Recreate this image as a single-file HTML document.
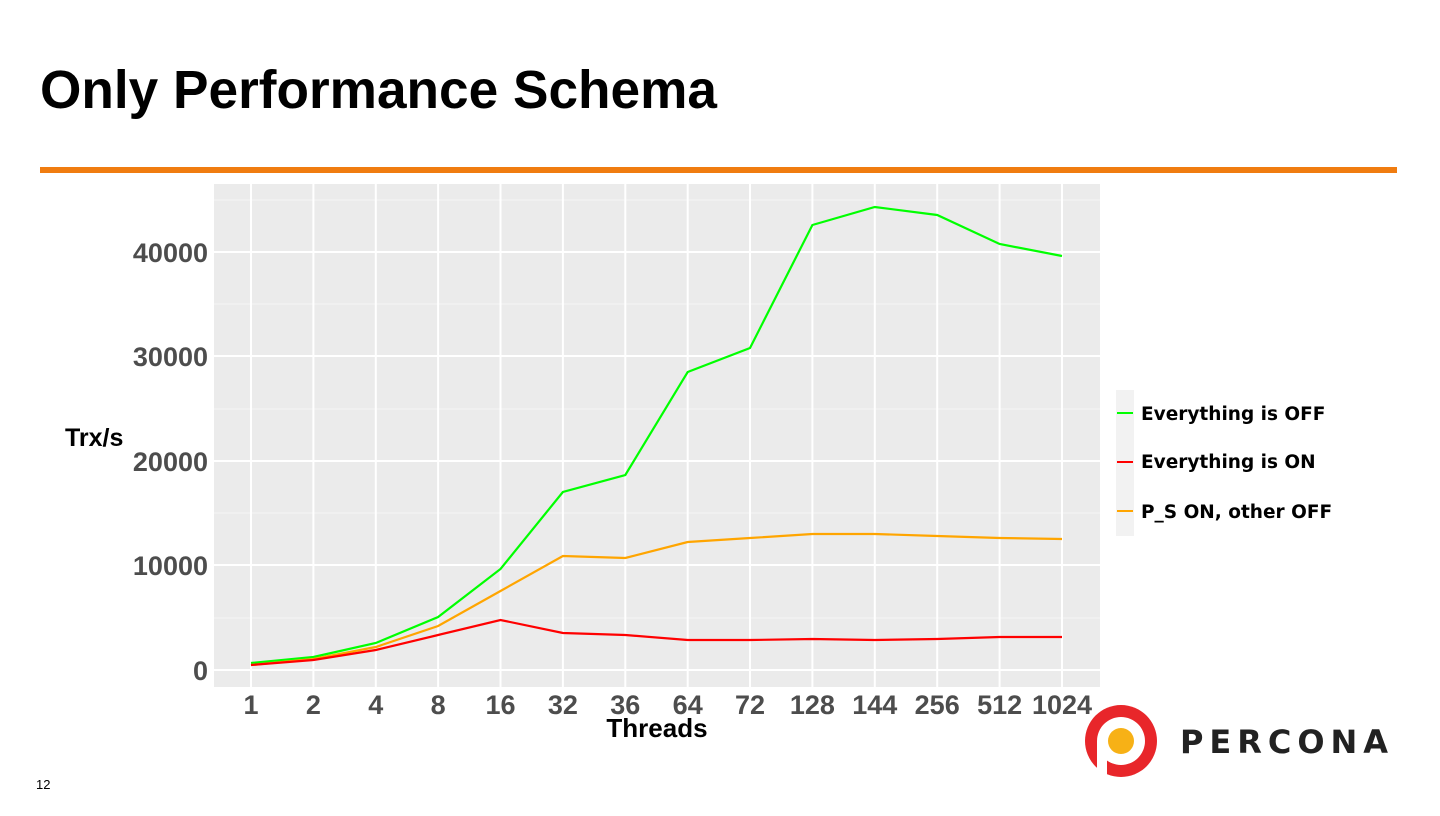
<!DOCTYPE html>
<html><head><meta charset="utf-8"><style>
body{margin:0;width:1440px;height:811px;background:#fff;overflow:hidden;font-family:"Liberation Sans",sans-serif}
</style></head><body>
<svg width="1440" height="811" xmlns="http://www.w3.org/2000/svg">
<text x="40" y="108" font-family="Liberation Sans, sans-serif" font-weight="bold" font-size="54" fill="#000" textLength="677" lengthAdjust="spacingAndGlyphs">Only Performance Schema</text>
<rect x="40" y="167" width="1357" height="6" fill="#f07c10"/>
<rect x="214" y="184" width="886" height="503" fill="#ebebeb"/>
<g stroke="#f5f5f5" stroke-width="1">
<line x1="214" x2="1100" y1="618" y2="618"/><line x1="214" x2="1100" y1="513" y2="513"/><line x1="214" x2="1100" y1="409" y2="409"/><line x1="214" x2="1100" y1="304" y2="304"/><line x1="214" x2="1100" y1="200" y2="200"/>
</g>
<g stroke="#fff" stroke-width="2">
<line x1="214" x2="1100" y1="670" y2="670"/><line x1="214" x2="1100" y1="565" y2="565"/><line x1="214" x2="1100" y1="461" y2="461"/><line x1="214" x2="1100" y1="356" y2="356"/><line x1="214" x2="1100" y1="252" y2="252"/>
<line x1="251" x2="251" y1="184" y2="687"/><line x1="313.4" x2="313.4" y1="184" y2="687"/><line x1="375.8" x2="375.8" y1="184" y2="687"/><line x1="438.1" x2="438.1" y1="184" y2="687"/><line x1="500.5" x2="500.5" y1="184" y2="687"/><line x1="562.9" x2="562.9" y1="184" y2="687"/><line x1="625.3" x2="625.3" y1="184" y2="687"/><line x1="687.7" x2="687.7" y1="184" y2="687"/><line x1="750" x2="750" y1="184" y2="687"/><line x1="812.4" x2="812.4" y1="184" y2="687"/><line x1="874.8" x2="874.8" y1="184" y2="687"/><line x1="937.2" x2="937.2" y1="184" y2="687"/><line x1="999.6" x2="999.6" y1="184" y2="687"/><line x1="1062" x2="1062" y1="184" y2="687"/>
</g>
<g fill="none" stroke-width="2.2">
<polyline stroke="#00ff00" points="251,663 313.4,657 375.8,643 438.1,617 500.5,569 562.9,492 625.3,475 687.7,372 750,348 812.4,225 874.8,207 937.2,215 999.6,244 1062,256"/>
<polyline stroke="#ffa500" points="251,665 313.4,659 375.8,647 438.1,626 500.5,591 562.9,556 625.3,558 687.7,542 750,538 812.4,534 874.8,534 937.2,536 999.6,538 1062,539"/>
<polyline stroke="#ff0000" points="251,665 313.4,660 375.8,650 438.1,635 500.5,620 562.9,633 625.3,635 687.7,640 750,640 812.4,639 874.8,640 937.2,639 999.6,637 1062,637"/>
</g>
<g font-weight="bold" font-size="27" fill="#4d4d4d" text-anchor="end">
<text x="208" y="680">0</text><text x="208" y="575">10000</text><text x="208" y="471">20000</text><text x="208" y="366">30000</text><text x="208" y="262">40000</text>
</g>
<g font-weight="bold" font-size="27" fill="#4d4d4d" text-anchor="middle">
<text x="251" y="714">1</text><text x="313.4" y="714">2</text><text x="375.8" y="714">4</text><text x="438.1" y="714">8</text><text x="500.5" y="714">16</text><text x="562.9" y="714">32</text><text x="625.3" y="714">36</text><text x="687.7" y="714">64</text><text x="750" y="714">72</text><text x="812.4" y="714">128</text><text x="874.8" y="714">144</text><text x="937.2" y="714">256</text><text x="999.6" y="714">512</text><text x="1062" y="714">1024</text>
</g>
<text x="657" y="737" font-weight="bold" font-size="26" text-anchor="middle" fill="#000">Threads</text>
<text x="65" y="446" font-weight="bold" font-size="25" fill="#000">Trx/s</text>
<rect x="1116" y="390" width="18" height="146" fill="#f2f2f2"/>
<line x1="1117" x2="1133" y1="413" y2="413" stroke="#00ff00" stroke-width="2"/>
<line x1="1117" x2="1133" y1="462" y2="462" stroke="#ff0000" stroke-width="2"/>
<line x1="1117" x2="1133" y1="511" y2="511" stroke="#ffa500" stroke-width="2"/>
<g font-family="DejaVu Sans, sans-serif" font-weight="bold" font-size="18.5" fill="#000">
<text x="1141" y="420">Everything is OFF</text><text x="1141" y="468">Everything is ON</text><text x="1141" y="518">P_S ON, other OFF</text>
</g>
<circle cx="1121" cy="741" r="36" fill="#e8262a"/>
<circle cx="1121" cy="741" r="24" fill="#fff"/>
<rect x="1097" y="741" width="10" height="36" fill="#fff"/>
<circle cx="1121" cy="741" r="13" fill="#f7b116"/>
<text x="1180" y="753" font-family="DejaVu Sans, sans-serif" font-weight="bold" font-size="32" textLength="208" lengthAdjust="spacing" fill="#222">PERCONA</text>
<text x="36" y="789" font-size="13" fill="#000">12</text>
</svg>
</body></html>
